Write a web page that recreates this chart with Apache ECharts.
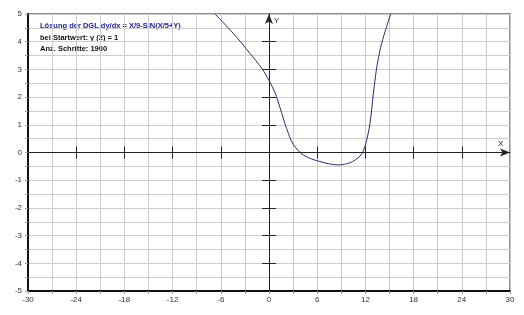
<!DOCTYPE html>
<html><head><meta charset="utf-8">
<script src="https://cdn.jsdelivr.net/npm/echarts@6/dist/echarts.min.js"></script>
<style>html,body{margin:0;padding:0;background:#fff}#c{width:524px;height:315px}</style>
</head><body><div id="c"></div>
<script>
// Curve points (x, y)
const curveX = [-6.72, -4.44, -2.37, -0.91, 0, 0.75, 1.37, 2.2, 3.03, 4.27, 6.14, 8.63, 10.08, 11.33, 11.95, 12.57, 12.98, 13.4, 13.9, 14.44, 15.15];
const curveY = [5.0, 4.30, 3.58, 3.04, 2.6, 2.16, 1.62, 0.86, 0.29, -0.09, -0.31, -0.45, -0.37, -0.13, 0.22, 1.05, 2.1, 3.05, 3.8, 4.36, 5.0];
// Ticks on the zero axes
const xZeroTicks = [-24, -18, -12, -6, 6, 12, 18, 24];
const yZeroTicks = [-4, -3, -2, -1, 1, 2, 3, 4];
const titleLines = ['Lösung der DGL dy/dx = X/9-SIN(X/5+Y)', 'bei Startwert: y (2) = 1', 'Anz. Schritte: 1900'];

const chart = echarts.init(document.getElementById('c'));
const grid = '#cdcdcd';
const labelStyle = {fontSize: 8, color: '#333', fontFamily: 'Liberation Sans'};
const baseX = {type: 'value', min: -30, max: 30, interval: 6};
const baseY = {type: 'value', min: -5, max: 5, interval: 1};
function zeroX(inside, showLine) {
  return Object.assign({}, baseX, {
    position: 'bottom',
    axisLine: {show: showLine, onZero: true, onZeroAxisIndex: 0,
      lineStyle: {color: '#222', width: 1}, symbol: ['none', 'arrow'], symbolSize: [6, 10]},
    axisTick: {show: true, inside: inside, length: 6, customValues: xZeroTicks, lineStyle: {color: '#222'}},
    axisLabel: {show: false}, splitLine: {show: false}
  });
}
function zeroY(inside, showLine) {
  return Object.assign({}, baseY, {
    position: 'left',
    axisLine: {show: showLine, onZero: true, onZeroAxisIndex: 0,
      lineStyle: {color: '#222', width: 1}, symbol: ['none', 'arrow'], symbolSize: [6, 10]},
    axisTick: {show: true, inside: inside, length: 7, customValues: yZeroTicks, lineStyle: {color: '#222'}},
    axisLabel: {show: false}, splitLine: {show: false}
  });
}
const data = curveX.map((x, i) => [x, curveY[i]]);
chart.setOption({
  animation: false,
  grid: {left: 28, right: 14, top: 14, bottom: 24, show: true, borderColor: '#8a8a8a', borderWidth: 2},
  xAxis: [
    Object.assign({}, baseX, {
      position: 'bottom',
      axisLine: {onZero: false, lineStyle: {color: '#111', width: 2}},
      axisTick: {show: true, length: 3, lineStyle: {color: '#999'}},
      minorTick: {show: true, splitNumber: 2, length: 3, lineStyle: {color: '#999'}},
      splitLine: {show: true, lineStyle: {color: grid, width: 1}},
      minorSplitLine: {show: true, lineStyle: {color: grid, width: 1}},
      axisLabel: Object.assign({margin: 5}, labelStyle)
    }),
    zeroX(true, true),
    zeroX(false, false)
  ],
  yAxis: [
    Object.assign({}, baseY, {
      position: 'left',
      axisLine: {onZero: false, lineStyle: {color: '#111', width: 2}},
      axisTick: {show: true, length: 3, lineStyle: {color: '#999'}},
      minorTick: {show: true, splitNumber: 2, length: 3, lineStyle: {color: '#999'}},
      splitLine: {show: true, lineStyle: {color: grid, width: 1}},
      minorSplitLine: {show: true, lineStyle: {color: grid, width: 1}},
      axisLabel: Object.assign({margin: 6}, labelStyle)
    }),
    zeroY(true, true),
    zeroY(false, false)
  ],
  series: [{
    type: 'line', xAxisIndex: 0, yAxisIndex: 0, data: data,
    showSymbol: false, smooth: 0.3,
    lineStyle: {color: '#2b2b70', width: 1}, clip: true, z: 5
  }],
  graphic: [
    {type: 'text', left: 40, top: 22, style: {text: titleLines[0], fill: '#1e1e8c', font: 'bold 7.5px "Liberation Sans"'}},
    {type: 'text', left: 40, top: 33.5, style: {text: titleLines[1], fill: '#111', font: 'bold 7.5px "Liberation Sans"'}},
    {type: 'text', left: 40, top: 45, style: {text: titleLines[2], fill: '#111', font: 'bold 7.5px "Liberation Sans"'}},
    {type: 'text', left: 498, top: 140, style: {text: 'X', fill: '#222', font: '8px "Liberation Sans"'}},
    {type: 'text', left: 274, top: 16.5, style: {text: 'Y', fill: '#222', font: '8px "Liberation Sans"'}}
  ]
});
</script></body></html>
